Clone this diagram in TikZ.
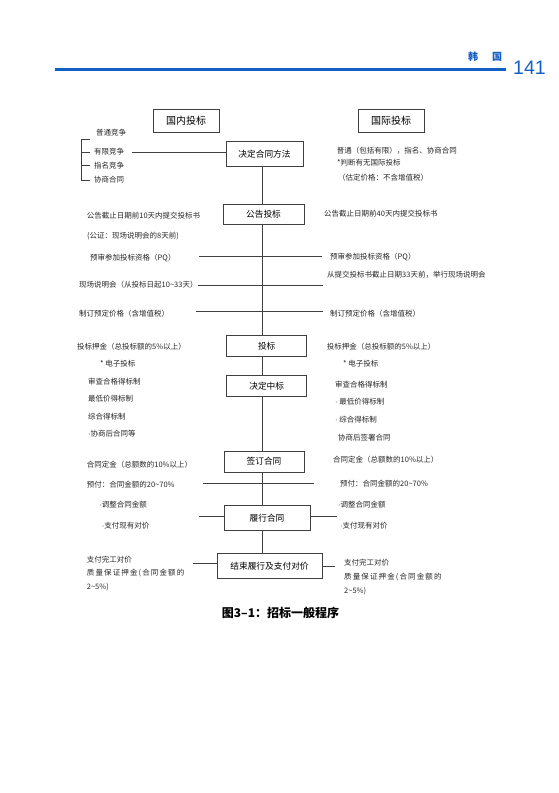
\documentclass[tikz,border=0pt]{standalone}
\usepackage{fontspec}
\setmainfont{Noto Sans CJK SC}
\newfontfamily\numfont{Liberation Sans}
\definecolor{hdblue}{RGB}{20,95,195}
\newcommand{\ptdot}{{\numfont ·}}

\begin{document}
\begin{tikzpicture}[x=1pt, y=-1pt]
    % 定义样式
    \tikzstyle{box}=[draw=black!75, line width=0.7pt, inner sep=0pt, font=\fontsize{8.7}{10}\selectfont]
    \tikzstyle{headbox}=[box, minimum width=66, minimum height=23, font=\fontsize{10}{12}\selectfont]
    \tikzstyle{txt}=[anchor=west, inner sep=0pt, font=\fontsize{7.5}{9}\selectfont, text=black!85]
    \tikzstyle{spaced}=[font=\fontsize{7.5}{9}\selectfont\addfontfeature{LetterSpace=15}]
    \tikzstyle{link}=[line width=0.6pt, black!75]

    \useasboundingbox (0,0) rectangle (559,793);

    % 1. 页眉
    \node[text=hdblue, font=\fontsize{10}{12}\selectfont\bfseries] (hdr) at (485,57) {韩\hspace{14pt}国};
    \node[text=hdblue, font=\numfont\fontsize{19.5}{22}\selectfont, anchor=west, inner sep=0pt] (pg) at (513,68) {141};
    \coordinate (ruleL) at (55,69);
    \draw[hdblue, line width=3pt] (ruleL) -- (ruleL -| hdr.east);

    % 2. 两个标题框
    \node[headbox] (guonei) at (186,120.5) {国内投标};
    \node[headbox] (guoji) at (391,120.5) {国际投标};

    % 3. 中间流程框
    \node[box, minimum width=77, minimum height=25] (fangfa) at (264.5,154) {决定合同方法};
    \node[box, minimum width=81, minimum height=20] (gonggao) at (263.5,214) {公告投标};
    \node[box, minimum width=80, minimum height=21] (toubiao) at (266.7,346.3) {投标};
    \node[box, minimum width=80, minimum height=21] (zhongbiao) at (266.7,386.3) {决定中标};
    \node[box, minimum width=80, minimum height=21] (qianding) at (264,461.5) {签订合同};
    \node[box, minimum width=86, minimum height=25] (lvxing) at (267,518) {履行合同};
    \node[box, minimum width=105, minimum height=25] (jieshu) at (269.5,566) {结束履行及支付对价};

    % 主干竖线
    \coordinate (spine) at (262,0);
    \foreach \a/\b in {fangfa/gonggao, gonggao/toubiao, toubiao/zhongbiao, zhongbiao/qianding, qianding/lvxing, lvxing/jieshu}
        \draw[link] (\a.south -| spine) -- (\b.north -| spine);

    % 4. 左侧 (国内投标)
    \node[txt] (l1) at (96,133) {普通竞争};
    \node[txt] (l2) at (94,152) {有限竞争};
    \node[txt] (l3) at (94,165.7) {指名竞争};
    \node[txt] (l4) at (94,180) {协商合同};
    % 括号
    \coordinate (bt) at (90,139);
    \coordinate (brk) at (81,0);
    \draw[link] (bt) -- (bt -| brk) -- (brk |- l4.west) -- ([xshift=-4]l4.west);
    \foreach \n in {l2,l3}
        \draw[link] (brk |- \n.west) -- ([xshift=-4]\n.west);
    \coordinate (yx) at (131.7,152);
    \draw[link] (yx) -- (yx -| fangfa.west);

    \node[txt] (l5) at (86.7,216) {公告截止日期前10天内提交投标书};
    \node[txt] (l6) at (87,235.7) {(公证：现场说明会的8天前)};
    \node[txt] (l7) at (90,258) {预审参加投标资格（PQ）};
    \node[txt] (l8) at (79,285) {现场说明会（从投标日起10\textasciitilde 33天）};
    \node[txt] (l9) at (79,313.5) {制订预定价格（含增值税）};
    \node[txt] (l10) at (77,346.7) {投标押金（总投标额的5\%以上）};
    \node[txt] (l11) at (100,364) {* 电子投标};
    \node[txt] (l12) at (88,381.7) {审查合格得标制};
    \node[txt] (l13) at (88,399) {最低价得标制};
    \node[txt] (l14) at (88,417) {综合得标制};
    \node[txt] (l15) at (88,433.3) {\ptdot 协商后合同等};
    \node[txt] (l16) at (86.7,464.3) {合同定金（总额数的10\%以上）};
    \node[txt] (l17) at (86.7,485) {预付：合同金额的20\textasciitilde 70\%};
    \node[txt] (l18) at (99.3,505) {\ptdot 调整合同金额};
    \node[txt] (l19) at (101.7,526) {\ptdot 支付现有对价};
    \node[txt] (l20) at (86.7,560) {支付完工对价};
    \node[txt, spaced] (l21) at (86.7,573.3) {质量保证押金(合同金额的};
    \node[txt] (l22) at (86.7,586.7) {2\textasciitilde 5\%)};

    % 5. 右侧 (国际投标)
    \node[txt] (r1) at (336.7,151) {普通（包括有限），指名、协商合同};
    \node[txt] (r2) at (337,163) {*判断有无国际投标};
    \node[txt] (r3) at (338,177.7) {（估定价格：不含增值税）};
    \node[txt] (r4) at (324,214) {公告截止日期前40天内提交投标书};
    \node[txt] (r5) at (330,257.3) {预审参加投标资格（PQ）};
    \node[txt] (r6) at (327,275) {从提交投标书截止日期33天前，举行现场说明会};
    \node[txt] (r7) at (330,314) {制订预定价格（含增值税）};
    \node[txt] (r8) at (326.7,346.7) {投标押金（总投标额的5\%以上）};
    \node[txt] (r9) at (343,363.5) {* 电子投标};
    \node[txt] (r10) at (335,385) {审查合格得标制};
    \node[txt] (r11) at (335,401.7) {\ptdot\ 最低价得标制};
    \node[txt] (r12) at (335,420) {\ptdot\ 综合得标制};
    \node[txt] (r13) at (338,438) {协商后签署合同};
    \node[txt] (r14) at (333,460) {合同定金（总额数的10\%以上）};
    \node[txt] (r15) at (340,483.3) {预付：合同金额的20\textasciitilde 70\%};
    \node[txt] (r16) at (338,505) {\ptdot 调整合同金额};
    \node[txt] (r17) at (340,526) {\ptdot 支付现有对价};
    \node[txt] (r18) at (344,562.3) {支付完工对价};
    \node[txt, spaced] (r19) at (344,576.7) {质量保证押金(合同金额的};
    \node[txt] (r20) at (344,591) {2\textasciitilde 5\%)};

    % 6. 横向连线
    \coordinate (pqL) at (199,256);
    \coordinate (pqR) at (322,256);
    \draw[link] (pqL) -- (pqR);
    \coordinate (xcR) at (323,285);
    \draw[link] (l8.east) -- (xcR);
    \coordinate (zdL) at (196,311);
    \coordinate (zdR) at (323,311);
    \draw[link] (zdL) -- (zdR);
    \coordinate (yfL) at (202.7,483);
    \coordinate (yfR) at (314,483);
    \draw[link] (yfL) -- (yfR);
    \coordinate (lxL) at (199,516);
    \coordinate (lxR) at (336.7,516);
    \draw[link] (lxL) -- (lxL -| lvxing.west);
    \draw[link] (lvxing.east |- lxR) -- (lxR);
    \coordinate (jsL) at (193,563);
    \coordinate (jsR) at (335,566.7);
    \draw[link] (jsL) -- (jsL -| jieshu.west);
    \draw[link] (jieshu.east |- jsR) -- (jsR);

    % 7. 图题
    \node[font=\fontsize{12}{14}\selectfont\bfseries] (cap) at (280.5,613) {图3–1：招标一般程序};
\end{tikzpicture}
\end{document}
